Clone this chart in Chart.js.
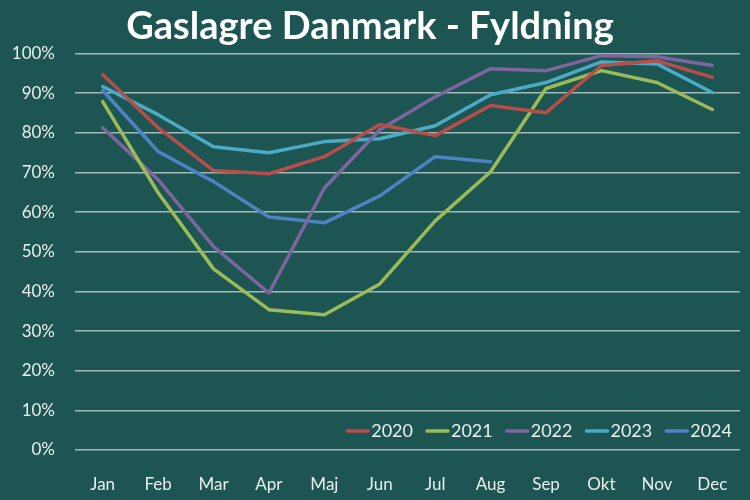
<!DOCTYPE html>
<html>
<head>
    <meta charset="UTF-8">
    <title>Gaslagre Danmark - Fyldning</title>
    <script src="https://cdn.jsdelivr.net/npm/chart.js@4.4.1/dist/chart.umd.min.js"></script>
    <style>
        body { margin: 0; background: #1c5552; }
        #wrap { width: 750px; height: 500px; }
    </style>
</head>
<body>
<div id="wrap"><canvas id="line-chart"></canvas></div>
<script>
    var months = ['Jan', 'Feb', 'Mar', 'Apr', 'Maj', 'Jun', 'Jul', 'Aug', 'Sep', 'Okt', 'Nov', 'Dec'];
    var fill2020 = [94.7, 81.3, 70.5, 69.7, 74.0, 82.1, 79.3, 86.9, 85.1, 97.0, 98.2, 94.0];
    var fill2021 = [87.9, 64.9, 45.7, 35.4, 34.1, 41.9, 57.8, 70.2, 91.2, 95.7, 92.7, 85.9];
    var fill2022 = [81.3, 68.2, 51.3, 39.6, 66.1, 80.8, 89.1, 96.2, 95.7, 99.5, 99.2, 97.0];
    var fill2023 = [91.7, 84.6, 76.5, 75.0, 77.8, 78.5, 81.8, 89.6, 92.7, 97.9, 97.4, 90.2];
    var fill2024 = [90.7, 75.3, 67.7, 58.8, 57.3, 64.1, 74.0, 72.7, null, null, null, null];
    var yTicks = [0, 10, 20, 30, 40, 50, 60, 70, 80, 90, 100];

    var textColor = '#e9efee';
    var font = "Lato, 'Open Sans', sans-serif";

    // legend drawn inside the plot, bottom right
    var insideLegend = {
        id: 'insideLegend',
        afterDatasetsDraw: function (chart) {
            var ctx = chart.ctx;
            var area = chart.chartArea;
            var y = area.bottom - 19;
            var x = area.right - 8;
            ctx.save();
            ctx.font = '18px ' + font;
            ctx.textBaseline = 'middle';
            ctx.textAlign = 'left';
            var sets = chart.data.datasets.slice().reverse();
            sets.forEach(function (ds) {
                var w = ctx.measureText(ds.label).width;
                x -= w;
                ctx.fillStyle = textColor;
                ctx.fillText(ds.label, x, y);
                ctx.strokeStyle = ds.borderColor;
                ctx.lineWidth = 3.5;
                ctx.lineCap = 'round';
                ctx.beginPath();
                ctx.moveTo(x - 24, y);
                ctx.lineTo(x - 3, y);
                ctx.stroke();
                x -= 38;
            });
            ctx.restore();
        }
    };

    function series(label, data, color) {
        return {
            label: label,
            data: data,
            borderColor: color,
            backgroundColor: color,
            borderWidth: 3.5,
            borderCapStyle: 'round',
            borderJoinStyle: 'round',
            pointRadius: 0,
            tension: 0,
            fill: false
        };
    }

    new Chart(document.getElementById('line-chart'), {
        type: 'line',
        data: {
            labels: months,
            datasets: [
                series('2020', fill2020, '#b84d4a'),
                series('2021', fill2021, '#9bbb59'),
                series('2022', fill2022, '#7f65a0'),
                series('2023', fill2023, '#4baac4'),
                series('2024', fill2024, '#4f82c2')
            ]
        },
        options: {
            responsive: true,
            maintainAspectRatio: false,
            animation: false,
            layout: { padding: { left: 0, right: 10, top: 0, bottom: 0 } },
            plugins: {
                legend: { display: false },
                tooltip: { enabled: false },
                title: {
                    display: true,
                    text: 'Gaslagre Danmark - Fyldning',
                    color: '#ffffff',
                    font: { family: font, size: 38, weight: 'bold' },
                    padding: { top: 4, bottom: 4 }
                }
            },
            scales: {
                x: {
                    offset: true,
                    grid: { display: false },
                    border: { display: false },
                    ticks: { color: textColor, font: { family: font, size: 17 }, padding: 16, maxRotation: 0 },
                    afterFit: function (scale) { scale.height = 50; }
                },
                y: {
                    min: 0,
                    max: 100,
                    afterBuildTicks: function (scale) {
                        scale.ticks = yTicks.map(function (v) { return { value: v }; });
                    },
                    grid: { color: '#a3b9b7', lineWidth: 1.5, drawTicks: false },
                    border: { display: false },
                    ticks: {
                        color: textColor,
                        font: { family: font, size: 17 },
                        padding: 20,
                        callback: function (v) { return v + '%'; }
                    },
                    afterFit: function (scale) { scale.width = 75; }
                }
            }
        },
        plugins: [insideLegend]
    });
</script>
</body>
</html>
